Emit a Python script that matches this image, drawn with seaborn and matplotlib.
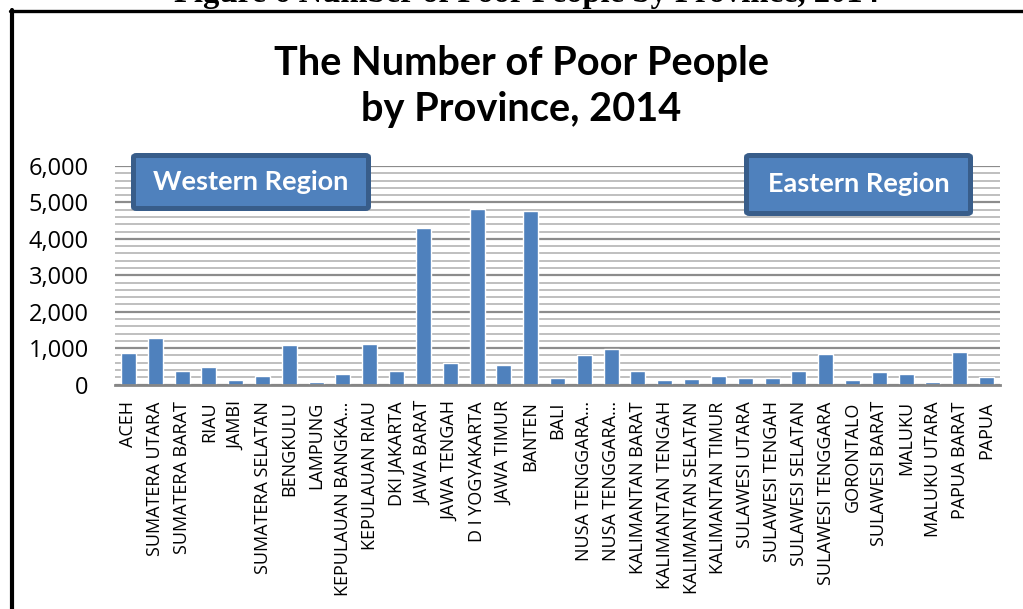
import matplotlib
matplotlib.use("Agg")
import matplotlib.pyplot as plt
from matplotlib.patches import FancyBboxPatch
from matplotlib.lines import Line2D
from matplotlib.ticker import MultipleLocator, FuncFormatter
import seaborn as sns
import pandas as pd

# Number of poor people (thousands) by province, 2014
provinces = [
    "ACEH", "SUMATERA UTARA", "SUMATERA BARAT", "RIAU", "JAMBI",
    "SUMATERA SELATAN", "BENGKULU", "LAMPUNG", "KEPULAUAN BANGKA…",
    "KEPULAUAN RIAU", "DKI JAKARTA", "JAWA BARAT", "JAWA TENGAH",
    "D I YOGYAKARTA", "JAWA TIMUR", "BANTEN", "BALI", "NUSA TENGGARA…",
    "NUSA TENGGARA…", "KALIMANTAN BARAT", "KALIMANTAN TENGAH",
    "KALIMANTAN SELATAN", "KALIMANTAN TIMUR", "SULAWESI UTARA",
    "SULAWESI TENGAH", "SULAWESI SELATAN", "SULAWESI TENGGARA",
    "GORONTALO", "SULAWESI BARAT", "MALUKU", "MALUKU UTARA",
    "PAPUA BARAT", "PAPUA",
]
poor_people = [
    860, 1275, 365, 475, 118, 247, 1080, 63, 300, 1125, 375, 4295, 604,
    4807, 522, 4760, 173, 805, 978, 384, 128, 164, 228, 192, 183, 375,
    851, 137, 330, 302, 63, 906, 201,
]
region_labels = ["Western Region", "Eastern Region"]
title = "The Number of Poor People\nby Province, 2014"
caption = "Figure 6 Number of Poor People by Province, 2014"

W, H = 1023, 609
BLUE = "#4F81BD"
DARK_BLUE = "#385D8A"

sns.set_theme(style="white")
plt.rcParams["font.family"] = ["Open Sans", "DejaVu Sans"]

fig = plt.figure(figsize=(W / 100, H / 100), dpi=100)
fig.patch.set_facecolor("white")


def fx(x):
    return x / W


def fy(y):
    return 1 - y / H


ax_left, ax_right, ax_top, ax_bottom = 115, 1000, 166, 384.5
ax = fig.add_axes([fx(ax_left), fy(ax_bottom), fx(ax_right - ax_left),
                   (ax_bottom - ax_top) / H])

df = pd.DataFrame({"province": range(len(provinces)), "poor": poor_people})
sns.barplot(data=df, x="province", y="poor", color=BLUE, saturation=1,
            width=0.56, ax=ax, zorder=3)

ax.set_xlim(-0.5, len(provinces) - 0.5)
ax.set_ylim(0, 6000)
ax.set_xticks(range(len(provinces)))
ax.set_xticklabels(provinces, rotation=90, fontsize=13, color="black")
ax.yaxis.set_major_locator(MultipleLocator(1000))
ax.yaxis.set_minor_locator(MultipleLocator(200))
ax.yaxis.set_major_formatter(FuncFormatter(lambda v, _: f"{int(v):,}"))
ax.tick_params(axis="y", which="major", labelsize=17, length=0, pad=19,
               colors="black")
ax.tick_params(axis="y", which="minor", length=0)
ax.tick_params(axis="x", length=0, pad=12)
ax.set_xlabel("")
ax.set_ylabel("")

ax.grid(False)
ax.yaxis.grid(True, which="minor", color="#BFBFBF", lw=1.4, zorder=0)
ax.yaxis.grid(True, which="major", color="#8C8C8C", lw=1.6, zorder=1)
ax.set_axisbelow(True)
for side in ["top", "right", "left"]:
    ax.spines[side].set_visible(False)
ax.spines["bottom"].set_color("#868686")
ax.spines["bottom"].set_linewidth(2)
ax.spines["bottom"].set_zorder(4)

# Region call-out boxes
boxes = [
    (region_labels[0], 131, 153, 371, 211),
    (region_labels[1], 744, 153, 973, 216),
]
for label, x0, y0, x1, y1 in boxes:
    patch = FancyBboxPatch(
        (fx(x0 + 2.5), fy(y1 - 2.5)), fx(x1 - x0 - 5), (y1 - y0 - 5) / H,
        boxstyle="round,pad=0,rounding_size=0.003",
        transform=fig.transFigure, facecolor=BLUE, edgecolor=DARK_BLUE,
        lw=3.6, clip_on=False, zorder=6)
    ax.add_patch(patch)
    ax.text(fx((x0 + x1) / 2), fy((y0 + y1) / 2), label,
            transform=fig.transFigure, ha="center", va="center",
            color="white", fontsize=19.5, fontweight="bold",
            family=["Lato", "DejaVu Sans"], zorder=7, clip_on=False)

# Chart title
fig.text(fx(521), fy(86), title, ha="center", va="center", fontsize=28.6,
         fontweight="bold", family=["Lato", "DejaVu Sans"], color="black",
         linespacing=1.3)

# Document caption above the chart frame
fig.text(fx(527), fy(2), caption, ha="center", va="baseline", fontsize=23.5,
         fontweight="bold", family=["Liberation Serif", "DejaVu Serif"],
         color="black")

# Chart frame (top and left edges)
fig.add_artist(Line2D([fx(10), fx(1023)], [fy(10.8), fy(10.8)],
                      transform=fig.transFigure, color="black", lw=2.4))
fig.add_artist(Line2D([fx(12), fx(12)], [fy(9.6), fy(609)],
                      transform=fig.transFigure, color="black", lw=3))

fig.savefig("out.png", dpi=100)
